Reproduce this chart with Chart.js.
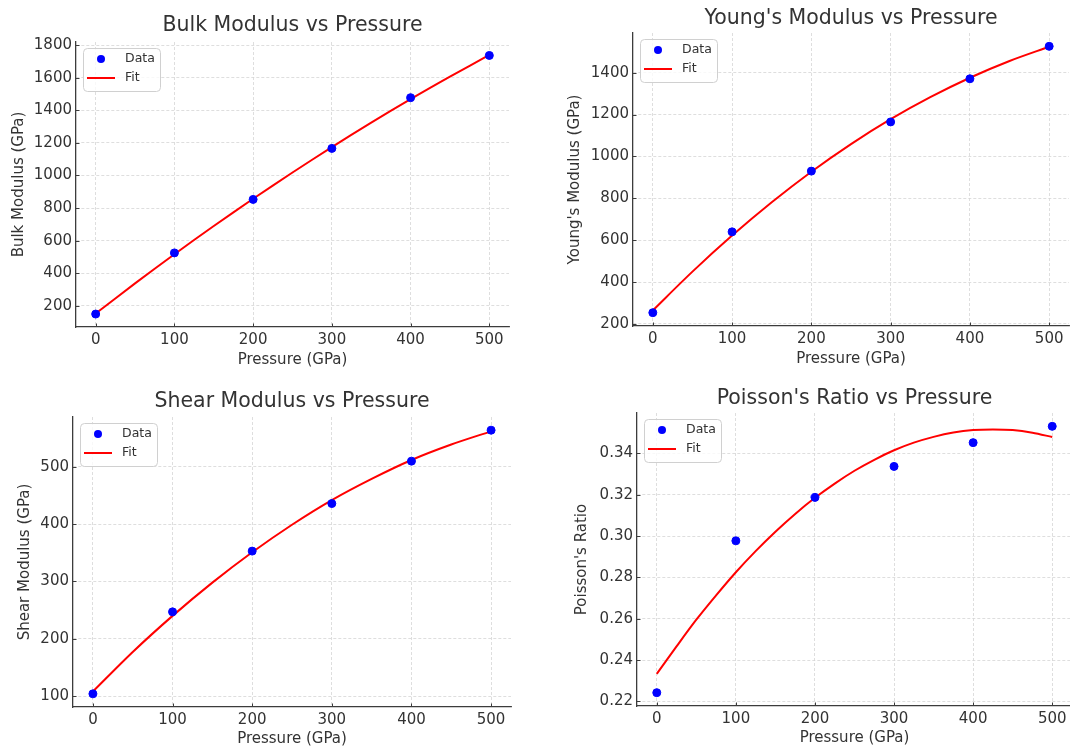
<!DOCTYPE html>
<html>
<head>
<meta charset="utf-8">
<title>Elastic moduli vs pressure</title>
<script src="https://cdn.jsdelivr.net/npm/chart.js@4/dist/chart.umd.min.js"></script>
<style>
  html, body { margin: 0; padding: 0; background: #fff; overflow: hidden; }
  body { width: 1070px; height: 747px; position: relative; }
  canvas { position: absolute; }
</style>
</head>
<body>
<canvas id="bulk"></canvas>
<canvas id="young"></canvas>
<canvas id="shear"></canvas>
<canvas id="poisson"></canvas>
<script>
// measured points (GPa) and the fitted curves sampled along pressure
const pressure = [0, 100, 200, 300, 400, 500];
const fitPressure = [0, 50, 100, 150, 200, 250, 300, 350, 400, 450, 500];
const poissonFitPressure = [0, 25, 50, 75, 100, 125, 150, 175, 200, 225, 250,
                            275, 300, 325, 350, 375, 400, 425, 450, 475, 500];

const bulkData = [150, 525, 853, 1166, 1477, 1736];
const bulkFit = [153, 338, 517, 690, 857, 1018, 1174, 1324, 1468, 1606, 1739];

const youngData = [254, 640, 930, 1165, 1371, 1526];
const youngFit = [265, 450, 622, 781, 927, 1059, 1178, 1283, 1376, 1456, 1524];

const shearData = [104, 247, 353, 436, 510, 564];
const shearFit = [108, 177, 240, 298, 351, 399, 442, 479, 512, 539, 562];

const poissonData = [0.2242, 0.2977, 0.3187, 0.3337, 0.3452, 0.3531];
const poissonFit = [0.2333, 0.2466, 0.2595, 0.2713, 0.2825, 0.2927, 0.3021, 0.3107,
                    0.3185, 0.3254, 0.3316, 0.3369, 0.3415, 0.3452, 0.3480, 0.3501,
                    0.3513, 0.3516, 0.3513, 0.3500, 0.3479];

const xTicks = [0, 100, 200, 300, 400, 500];
const bulkTicks = [200, 400, 600, 800, 1000, 1200, 1400, 1600, 1800];
const youngTicks = [200, 400, 600, 800, 1000, 1200, 1400];
const shearTicks = [100, 200, 300, 400, 500];
const poissonTicks = [0.22, 0.24, 0.26, 0.28, 0.30, 0.32, 0.34];

const FONT = '"DejaVu Sans", Verdana, sans-serif';
const TEXT = '#333333';
const SPINE = '#3c3c3c';

// page placement of each panel: canvas box, plot area and text anchors
const panels = [
  { id: 'bulk', title: 'Bulk Modulus vs Pressure', yTitle: 'Bulk Modulus (GPa)',
    data: bulkData, fitX: fitPressure, fit: bulkFit, ticks: bulkTicks, digits: 0,
    box: { left: 0, top: 0, width: 535, height: 373 },
    area: { left: 76, top: 42, right: 509, bottom: 327 },
    titleY: 25.5, yTitleX: 19, xTitleY: 360 },
  { id: 'young', title: "Young's Modulus vs Pressure", yTitle: "Young's Modulus (GPa)",
    data: youngData, fitX: fitPressure, fit: youngFit, ticks: youngTicks, digits: 0,
    box: { left: 535, top: 0, width: 570, height: 373 },
    area: { left: 633, top: 33, right: 1069, bottom: 326 },
    titleY: 18.5, yTitleX: 575, xTitleY: 359 },
  { id: 'shear', title: 'Shear Modulus vs Pressure', yTitle: 'Shear Modulus (GPa)',
    data: shearData, fitX: fitPressure, fit: shearFit, ticks: shearTicks, digits: 0,
    box: { left: 0, top: 373, width: 535, height: 390 },
    area: { left: 73, top: 417, right: 511, bottom: 707 },
    titleY: 402, yTitleX: 25, xTitleY: 739 },
  { id: 'poisson', title: "Poisson's Ratio vs Pressure", yTitle: "Poisson's Ratio",
    data: poissonData, fitX: poissonFitPressure, fit: poissonFit, ticks: poissonTicks, digits: 2,
    box: { left: 535, top: 373, width: 580, height: 390 },
    area: { left: 637, top: 413, right: 1072, bottom: 706 },
    titleY: 398.5, yTitleX: 582.5, xTitleY: 738 }
];

// title, inward tick marks and the boxed legend inside the plot
const panelDecor = {
  id: 'panelDecor',
  afterDraw(chart, args, opts) {
    const { ctx, chartArea: a, scales: { x, y } } = chart;
    ctx.save();

    ctx.strokeStyle = SPINE;
    ctx.lineWidth = 1;
    ctx.beginPath();
    xTicks.forEach(v => {
      const px = Math.round(x.getPixelForValue(v)) + 0.5;
      ctx.moveTo(px, a.bottom);
      ctx.lineTo(px, a.bottom - 3.5);
    });
    opts.yTicks.forEach(v => {
      const py = Math.round(y.getPixelForValue(v)) + 0.5;
      ctx.moveTo(a.left, py);
      ctx.lineTo(a.left + 3.5, py);
    });
    ctx.stroke();

    ctx.fillStyle = TEXT;
    ctx.font = '20.5px ' + FONT;
    ctx.textAlign = 'center';
    ctx.textBaseline = 'middle';
    ctx.fillText(opts.text, (a.left + a.right) / 2, opts.titleY);

    const bx = a.left + 7, by = a.top + 6;
    ctx.beginPath();
    ctx.roundRect(bx + 0.5, by + 0.5, 77, 43, 4);
    ctx.fillStyle = 'rgba(255,255,255,0.8)';
    ctx.fill();
    ctx.strokeStyle = '#d0d0d0';
    ctx.stroke();

    ctx.beginPath();
    ctx.arc(bx + 18, by + 11, 4, 0, Math.PI * 2);
    ctx.fillStyle = '#0000ff';
    ctx.fill();

    ctx.beginPath();
    ctx.moveTo(bx + 4, by + 30);
    ctx.lineTo(bx + 32, by + 30);
    ctx.strokeStyle = '#ff0000';
    ctx.lineWidth = 2;
    ctx.stroke();

    ctx.fillStyle = TEXT;
    ctx.font = '12.5px ' + FONT;
    ctx.textAlign = 'left';
    ctx.fillText('Data', bx + 42, by + 11);
    ctx.fillText('Fit', bx + 42, by + 30);
    ctx.restore();
  }
};

function buildChart(p) {
  const canvas = document.getElementById(p.id);
  canvas.width = p.box.width;
  canvas.height = p.box.height;
  canvas.style.left = p.box.left + 'px';
  canvas.style.top = p.box.top + 'px';

  const all = p.data.concat(p.fit);
  const lo = Math.min(...all), hi = Math.max(...all);
  const pad = (hi - lo) * 0.05;

  const yWidth = p.area.left - p.box.left;
  const xHeight = p.box.top + p.box.height - p.area.bottom;

  new Chart(canvas, {
    type: 'scatter',
    data: {
      datasets: [
        {
          label: 'Data',
          data: pressure.map((v, i) => ({ x: v, y: p.data[i] })),
          backgroundColor: '#0000ff',
          borderColor: '#0000ff',
          pointRadius: 4,
          pointHoverRadius: 4
        },
        {
          label: 'Fit',
          data: p.fitX.map((v, i) => ({ x: v, y: p.fit[i] })),
          showLine: true,
          borderColor: '#ff0000',
          borderWidth: 2,
          pointRadius: 0,
          tension: 0.3
        }
      ]
    },
    options: {
      responsive: false,
      animation: false,
      events: [],
      layout: {
        padding: {
          left: 0,
          top: p.area.top - p.box.top,
          right: p.box.left + p.box.width - p.area.right,
          bottom: 0
        }
      },
      plugins: {
        legend: { display: false },
        tooltip: { enabled: false },
        panelDecor: { text: p.title, titleY: p.titleY - p.box.top, yTicks: p.ticks }
      },
      scales: {
        x: {
          type: 'linear',
          min: -25,
          max: 525,
          afterBuildTicks: s => { s.ticks = xTicks.map(v => ({ value: v })); },
          afterFit: s => { s.height = xHeight; },
          grid: { color: '#d6d6d6', lineWidth: 0.8, drawTicks: false },
          border: { color: SPINE, width: 1.3, dash: [3, 2] },
          ticks: { color: TEXT, font: { family: FONT, size: 15 }, padding: 4, maxRotation: 0,
                   callback: v => String(v) },
          title: { display: true, text: 'Pressure (GPa)', color: TEXT,
                   font: { family: FONT, size: 15 },
                   padding: { top: 0, bottom: p.box.top + p.box.height - p.xTitleY - 9 } }
        },
        y: {
          type: 'linear',
          min: lo - pad,
          max: hi + pad,
          afterBuildTicks: s => { s.ticks = p.ticks.map(v => ({ value: v })); },
          afterFit: s => { s.width = yWidth; },
          grid: { color: '#d6d6d6', lineWidth: 0.8, drawTicks: false },
          border: { color: SPINE, width: 1.3, dash: [3, 2] },
          ticks: { color: TEXT, font: { family: FONT, size: 15 }, padding: 4,
                   callback: v => Number(v).toFixed(p.digits) },
          title: { display: true, text: p.yTitle, color: TEXT,
                   font: { family: FONT, size: 15 },
                   padding: { top: p.yTitleX - p.box.left - 9, bottom: 0 } }
        }
      }
    },
    plugins: [panelDecor]
  });
}

panels.forEach(buildChart);
</script>
</body>
</html>
